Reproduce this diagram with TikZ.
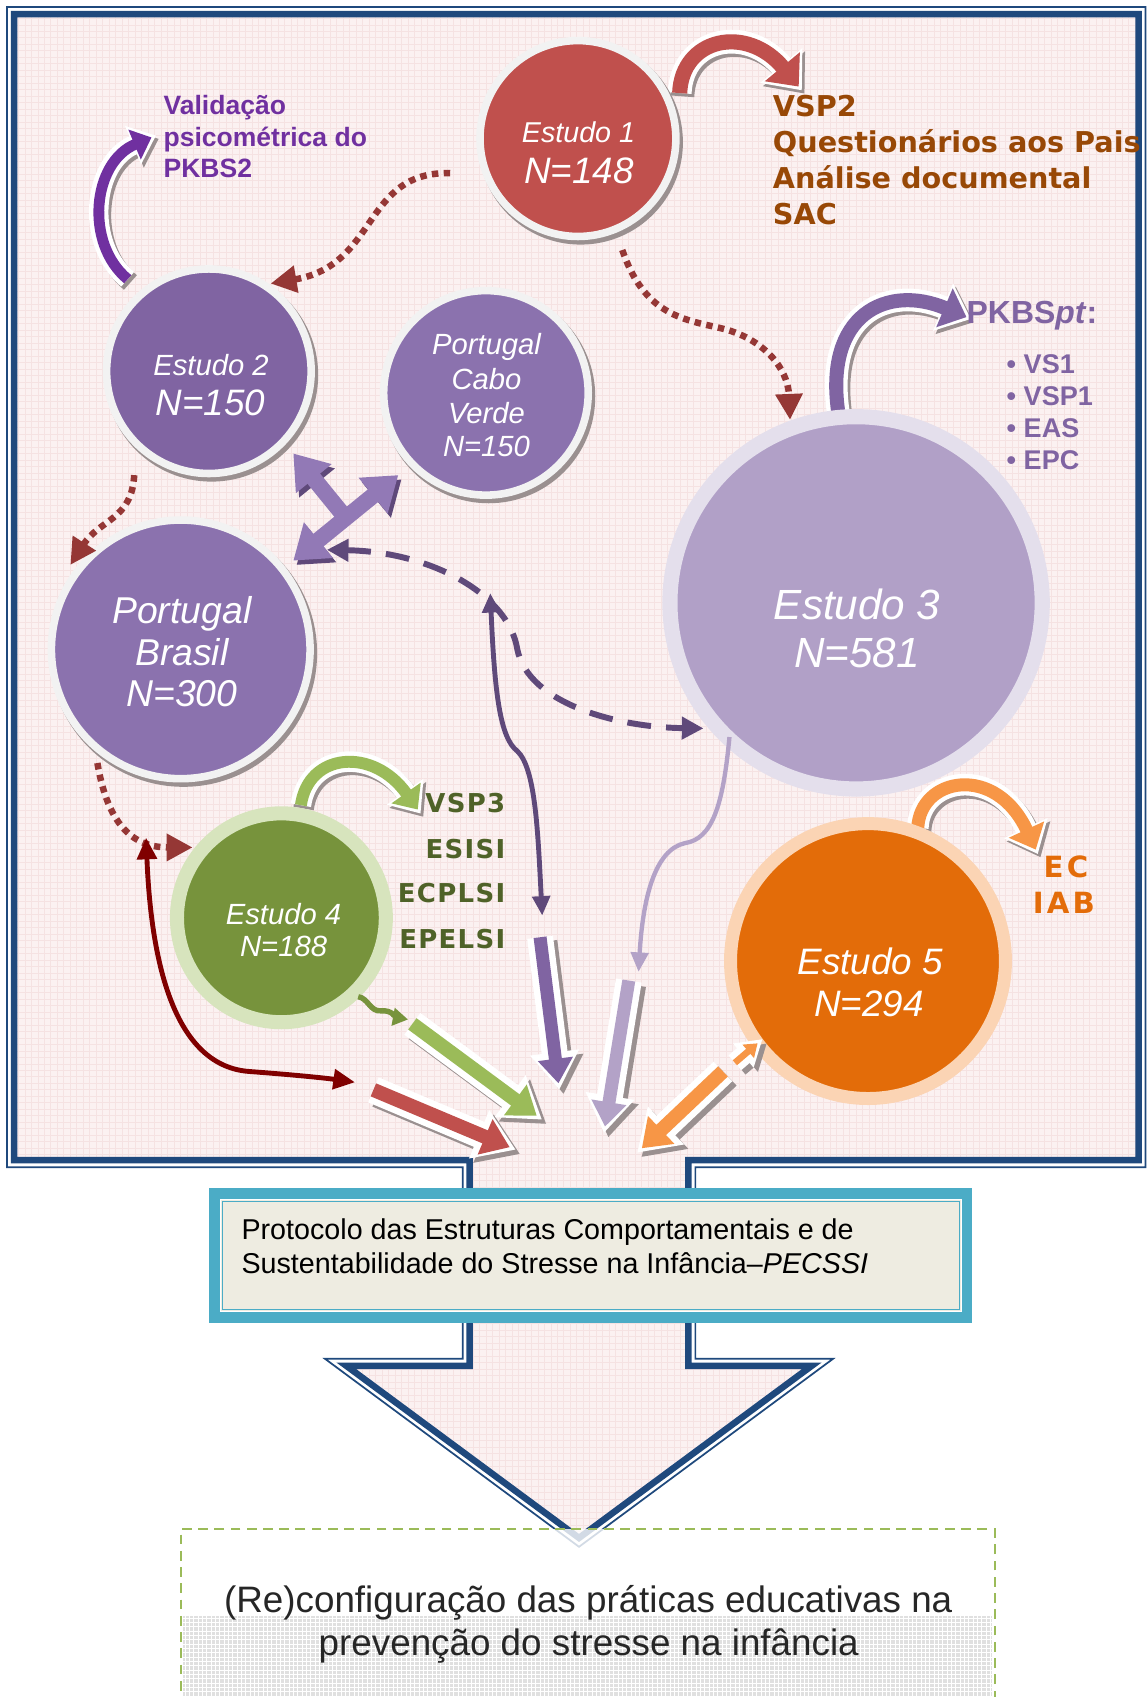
\documentclass[tikz,border=0pt]{standalone}
\usepackage{fontspec}
\setmainfont{Liberation Sans}
\newfontfamily\verd{DejaVu Sans}
\newfontfamily\verdsp{DejaVu Sans}[LetterSpace=5]
\newfontfamily\verdspo{DejaVu Sans}[LetterSpace=11]
\usetikzlibrary{arrows.meta}

\definecolor{frameblue}{HTML}{1F497D}
\definecolor{bgpink}{HTML}{FBF1F1}
\definecolor{gridpink}{HTML}{F5E2E2}
\definecolor{ringwhite}{HTML}{F2F2F2}
\definecolor{shadowgray}{HTML}{9A9090}
\definecolor{red1}{HTML}{C0504D}
\definecolor{purple2}{HTML}{8064A2}
\definecolor{purple3}{HTML}{8B72AE}
\definecolor{lilac}{HTML}{B1A0C7}
\definecolor{lilacring}{HTML}{E4DFEC}
\definecolor{olive}{HTML}{77933C}
\definecolor{olivering}{HTML}{D7E4BD}
\definecolor{orange5}{HTML}{E36C09}
\definecolor{orangering}{HTML}{FBD4B4}
\definecolor{valpurple}{HTML}{7030A0}
\definecolor{vspbrown}{HTML}{984806}
\definecolor{vspgreen}{HTML}{4F6228}
\definecolor{dotbrown}{HTML}{953735}
\definecolor{darkred}{HTML}{800000}
\definecolor{deeppurple}{HTML}{5F497A}
\definecolor{softlilac}{HTML}{B3A2C7}
\definecolor{lightgreen}{HTML}{9BBB59}
\definecolor{lightorange}{HTML}{F79646}
\definecolor{boxcyan}{HTML}{4BACC6}
\definecolor{boxfill}{HTML}{EEECE1}
\definecolor{fwpurple}{HTML}{9279B6}
\definecolor{textgray}{HTML}{262626}
\definecolor{patgray}{HTML}{E0E0E0}

\newcommand\fsz[1]{\fontsize{#1}{#1}\selectfont}
% outline of the framed area with its neck and arrowhead (centre of the thick rule)
\newcommand\framepath{(13,13) -- (1052,13) -- (1052,1072) -- (636,1072) -- (636,1262) -- (750,1262) -- (535,1421) -- (320,1262) -- (434,1262) -- (434,1072) -- (13,1072) -- cycle}
% thin companion rule, just outside the thick one
\newcommand\frameouter{(6.5,6.5) -- (1058.5,6.5) -- (1058.5,1078.5) -- (642.5,1078.5) -- (642.5,1255.5) -- (769.7,1255.5) -- (535,1429.2) -- (300.3,1255.5) -- (427.5,1255.5) -- (427.5,1078.5) -- (6.5,1078.5) -- cycle}

\begin{document}
\begin{tikzpicture}[x=1pt,y=-1pt,
  disc/.style={circle, inner sep=0pt, line width=7pt, draw=ringwhite},
  ctext/.style={text=white, anchor=base, inner sep=0pt},
  lbl/.style={inner sep=0pt},
  dotarrow/.style={draw=dotbrown, line width=6pt, dash pattern=on 6pt off 5pt,
    -{Triangle[length=24pt,width=24pt]}},
  bentarrow/.style 2 args={draw=#1, line width=#2,
    -{Triangle[length=0pt 1.7, width=0pt 2.9]},
    preaction={draw=shadowgray, line width=#2+8pt, -{Triangle[length=-7.6pt 1.7, width=-15.2pt 2.9]},
      shorten >=-4.5pt, transform canvas={shift={(2.5pt,-3pt)}}},
    preaction={draw=white, line width=#2+8pt, -{Triangle[length=-7.6pt 1.7, width=-15.2pt 2.9]},
      shorten >=-4.5pt}},
  blockarrow/.style 2 args={draw=#1, line width=#2,
    -{Triangle[length=0pt 1.9, width=0pt 2.6]},
    preaction={draw=shadowgray, line width=#2+12pt, -{Triangle[length=-10.8pt 1.9, width=-19.2pt 2.6]},
      shorten >=-6pt, transform canvas={shift={(4pt,-4pt)}}},
    preaction={draw=white, line width=#2+12pt, -{Triangle[length=-10.8pt 1.9, width=-19.2pt 2.6]},
      shorten >=-6pt}},
  fourway/.style={draw=fwpurple, line width=15pt,
    preaction={draw=deeppurple, transform canvas={shift={(3pt,-4pt)}}}},
  gridline/.style={draw=gridpink, line width=0.7pt}
]
\useasboundingbox (0,0) rectangle (1060,1568);
\fill[white] (0,0) rectangle (1060,1568);

% ---------- framed area ----------
\fill[bgpink] \framepath;
\begin{scope}
  \clip \framepath;
  \foreach \gx in {17,23,...,1052} \draw[gridline] (\gx,13) -- (\gx,1425);
  \foreach \gy in {17,23,...,1425} \draw[gridline] (13,\gy) -- (1052,\gy);
\end{scope}
\draw[frameblue, line width=6pt, line join=miter] \framepath;
\draw[frameblue, line width=1.6pt, line join=miter] \frameouter;

% ---------- protocol box ----------
\node[rectangle, draw=boxcyan, line width=10pt, fill=boxfill, minimum width=695pt, minimum height=114pt, inner sep=0pt] (pecssi) at (545.5,1160) {};
\draw[white, line width=1.3pt] (203.5,1108.5) rectangle (888.5,1212);
\draw[boxcyan, line width=1pt] (205.5,1110.5) rectangle (886.5,1210);
\node[lbl, anchor=base west, font=\fsz{26.5}] (pec1) at (223,1145) {Protocolo das Estruturas Comportamentais e de};
\node[lbl, anchor=base west, font=\fsz{26.5}] (pec2) at (223,1177) {Sustentabilidade do Stresse na Infância–\textit{PECSSI}};

% ---------- outcome box ----------
\node[rectangle, draw=lightgreen, line width=1.8pt, dash pattern=on 9pt off 6pt, fill=white, fill opacity=0.8, draw opacity=1, minimum width=752pt, minimum height=186pt, inner sep=0pt] (outcome) at (543,1506) {};
\fill[patgray] (169,1493) rectangle (917,1570);
\begin{scope}
  \clip (169,1493) rectangle (917,1570);
  \foreach \gx in {171,175,...,917} \draw[white, line width=0.5pt] (\gx,1493) -- (\gx,1570);
  \foreach \gy in {1495,1499,...,1570} \draw[white, line width=0.5pt] (169,\gy) -- (917,\gy);
\end{scope}
\node[lbl, anchor=base, text=textgray, font=\fsz{34}] (out1) at (543.5,1490) {(Re)configuração das práticas educativas na};
\node[lbl, anchor=base, text=textgray, font=\fsz{34}] (out2) at (544,1530) {prevenção do stresse na infância};

% ---------- curved arrows leaving the studies ----------
\coordinate (u2s) at (118,258);  \coordinate (u2e) at (140,127);
\coordinate (u1s) at (628,86);   \coordinate (u1e) at (738,80);
\coordinate (u3s) at (775,384);  \coordinate (u3e) at (893,293);
\coordinate (u4s) at (278,744);  \coordinate (u4e) at (386,748);
\coordinate (u5s) at (848,765);  \coordinate (u5e) at (957,785);
\draw[bentarrow={valpurple}{10pt}] (u2s) .. controls (78,225) and (85,150) .. (u2e);
\draw[bentarrow={red1}{14pt}] (u1s) .. controls (630,35) and (690,22) .. (u1e);
\draw[bentarrow={purple2}{13pt}] (u3s) .. controls (760,290) and (820,262) .. (u3e);
\draw[bentarrow={lightgreen}{11pt}] (u4s) .. controls (285,695) and (345,690) .. (u4e);
\draw[bentarrow={lightorange}{12pt}] (u5s) .. controls (850,718) and (920,705) .. (u5e);

% ---------- studies ----------
\fill[shadowgray] (536.5,131.5) circle[radius=94.5pt];
\node[disc, fill=red1, minimum size=181pt] (e1) at (534,128) {};
\fill[shadowgray] (195.5,346.5) circle[radius=98.5pt];
\node[disc, fill=purple2, minimum size=189pt] (e2) at (193,343) {};
\fill[shadowgray] (451.5,366.5) circle[radius=98.5pt];
\node[disc, fill=purple3, minimum size=189pt] (pcv) at (449,363) {};
\fill[shadowgray] (169.5,603.5) circle[radius=123.5pt];
\node[disc, fill=purple3, minimum size=239pt] (pb) at (167,600) {};
\node[disc, fill=lilac, draw=lilacring, line width=14pt, minimum size=344pt] (e3) at (791,557) {};
\node[disc, fill=olive, draw=olivering, line width=13pt, minimum size=193pt] (e4) at (260,848) {};
\node[disc, fill=orange5, draw=orangering, line width=12pt, minimum size=254pt] (e5) at (802,888) {};

\node[ctext, font=\fsz{26.5}\itshape] (e1a) at (534.5,131.5) {Estudo 1};
\node[ctext, font=\fsz{34}\itshape] (e1b) at (535,170) {N=148};
\node[ctext, font=\fsz{27}\itshape] (e2a) at (195,347) {Estudo 2};
\node[ctext, font=\fsz{34}\itshape] (e2b) at (194.5,384) {N=150};
\node[ctext, font=\fsz{27}\itshape] (pcva) at (449.5,328) {Portugal};
\node[ctext, font=\fsz{27}\itshape] (pcvb) at (449.5,360) {Cabo};
\node[ctext, font=\fsz{27}\itshape] (pcvc) at (449.5,391) {Verde};
\node[ctext, font=\fsz{27}\itshape] (pcvd) at (449.5,422) {N=150};
\node[ctext, font=\fsz{34.5}\itshape] (pba) at (168,576) {Portugal};
\node[ctext, font=\fsz{34.5}\itshape] (pbb) at (168,615) {Brasil};
\node[ctext, font=\fsz{34.5}\itshape] (pbc) at (168,653) {N=300};
\node[ctext, font=\fsz{39}\itshape] (e3a) at (792,572) {Estudo 3};
\node[ctext, font=\fsz{39}\itshape] (e3b) at (792,617) {N=581};
\node[ctext, font=\fsz{27}\itshape] (e4a) at (262,854) {Estudo 4};
\node[ctext, font=\fsz{27}\itshape] (e4b) at (262,884) {N=188};
\node[ctext, font=\fsz{34}\itshape] (e5a) at (804,900) {Estudo 5};
\node[ctext, font=\fsz{34}\itshape] (e5b) at (803,939) {N=294};

% ---------- dotted links between studies ----------
\coordinate (d1s) at (416,160);  \coordinate (d1e) at (250,262);
\coordinate (d2s) at (575,231);  \coordinate (d2e) at (730,388);
\coordinate (d3s) at (124,439);  \coordinate (d3e) at (65,522);
\coordinate (d4s) at (90,705);   \coordinate (d4e) at (178,783);
\draw[dotarrow] (d1s) .. controls (335,158) and (350,245) .. (d1e);
\draw[dotarrow] (d2s) .. controls (595,290) and (630,295) .. (665,303) .. controls (705,312) and (728,340) .. (d2e);
\draw[dotarrow] (d3s) .. controls (122,480) and (92,480) .. (d3e);
\draw[dotarrow] (d4s) .. controls (100,765) and (125,783) .. (d4e);

% ---------- three-way arrow between the samples of study 2 ----------
\coordinate (fwul) at (271,419);
\coordinate (fwur) at (368,439);
\coordinate (fwll) at (271,518);
\coordinate (fwc)  at (319,478);
\draw[fourway, -{Triangle[length=0pt 2, width=0pt 2.7]}] (fwc) -- (fwul);
\draw[fourway, {Triangle[length=0pt 2, width=0pt 2.7]}-{Triangle[length=0pt 2, width=0pt 2.7]}] (fwll) -- (fwur);

% ---------- long connectors ----------
\coordinate (dsh1) at (302,508); \coordinate (dsh2) at (650,673);
\draw[deeppurple, line width=5.5pt, dash pattern=on 22pt off 14pt,
  {Triangle[length=20pt,width=20pt]}-{Triangle[length=20pt,width=20pt]}]
  (dsh1) .. controls (400,510) and (470,550) .. (478,600) .. controls (488,650) and (570,672) .. (dsh2);
\coordinate (sp1) at (453,548); \coordinate (sp2) at (501,846);
\draw[deeppurple, line width=4.5pt, {Triangle[length=18pt,width=16pt]}-{Triangle[length=18pt,width=16pt]}]
  (sp1) .. controls (457,640) and (462,682) .. (478,694) .. controls (495,710) and (497,770) .. (sp2);
\coordinate (lp1) at (674,681); \coordinate (lp2) at (590,898);
\draw[softlilac, line width=4pt, -{Triangle[length=18pt,width=16pt]}]
  (lp1) .. controls (668,745) and (658,775) .. (633,779) .. controls (605,785) and (594,830) .. (lp2);
\coordinate (dr1) at (135,774); \coordinate (dr2) at (328,1000);
\draw[darkred, line width=4.5pt, {Triangle[length=20pt,width=18pt]}-{Triangle[length=20pt,width=18pt]}]
  (dr1) .. controls (140,900) and (165,985) .. (230,990) .. controls (270,993) and (300,996) .. (dr2);
\coordinate (sq1) at (331,921); \coordinate (sq2) at (377,942);
\draw[olive, line width=5pt, -{Triangle[length=14pt,width=16pt]}]
  (sq1) .. controls (340,922) and (342,935) .. (352,934) .. controls (362,933) and (366,940) .. (sq2);

% ---------- block arrows converging on the protocol ----------
\coordinate (ba1) at (345,1007); \coordinate (bb1) at (471,1060);
\coordinate (ba2) at (381,946);  \coordinate (bb2) at (496,1031);
\coordinate (ba3) at (499,866);  \coordinate (bb3) at (516,1001);
\coordinate (ba4) at (581,906);  \coordinate (bb4) at (559,1041);
\coordinate (ba5) at (668,990);  \coordinate (bb5) at (593,1061);
\coordinate (ba6) at (679,982);  \coordinate (bb6) at (700,964);
\draw[blockarrow={red1}{13pt}] (ba1) -- (bb1);
\draw[blockarrow={lightgreen}{13pt}] (ba2) -- (bb2);
\draw[blockarrow={purple2}{12pt}] (ba3) -- (bb3);
\draw[blockarrow={softlilac}{12pt}] (ba4) -- (bb4);
\draw[blockarrow={lightorange}{13pt}] (ba5) -- (bb5);
\draw[blockarrow={lightorange}{6pt}] (ba6) -- (bb6);

% ---------- labels ----------
\node[lbl, anchor=base west, text=valpurple, font=\fsz{24.5}\bfseries] (val1) at (151,106) {Validação};
\node[lbl, anchor=base west, text=valpurple, font=\fsz{24.5}\bfseries] (val2) at (151,135) {psicométrica do};
\node[lbl, anchor=base west, text=valpurple, font=\fsz{24.5}\bfseries] (val3) at (151,164) {PKBS2};

\node[lbl, anchor=base west, text=vspbrown, font=\verd\fsz{26.5}\bfseries] (vsp2a) at (714,108) {VSP2};
\node[lbl, anchor=base west, text=vspbrown, font=\verd\fsz{26.5}\bfseries] (vsp2b) at (714,141) {Questionários aos Pais};
\node[lbl, anchor=base west, text=vspbrown, font=\verd\fsz{26.5}\bfseries] (vsp2c) at (714,174) {Análise documental};
\node[lbl, anchor=base west, text=vspbrown, font=\verd\fsz{26.5}\bfseries] (vsp2d) at (714,207) {SAC};

\node[lbl, anchor=base west, text=purple2, font=\fsz{29.5}\bfseries] (pkbs) at (893,299) {PKBS\textit{pt}:};
\node[lbl, anchor=base west, text=purple2, font=\fsz{25}\bfseries] (pk1) at (930,345) {• VS1};
\node[lbl, anchor=base west, text=purple2, font=\fsz{25}\bfseries] (pk2) at (930,374.5) {• VSP1};
\node[lbl, anchor=base west, text=purple2, font=\fsz{25}\bfseries] (pk3) at (930,404) {• EAS};
\node[lbl, anchor=base west, text=purple2, font=\fsz{25}\bfseries] (pk4) at (930,434) {• EPC};

\node[lbl, anchor=base east, text=vspgreen, font=\verdsp\fsz{24}\bfseries] (s4a) at (467,751) {VSP3};
\node[lbl, anchor=base east, text=vspgreen, font=\verdsp\fsz{24}\bfseries] (s4b) at (467,793) {ESISI};
\node[lbl, anchor=base east, text=vspgreen, font=\verdsp\fsz{24}\bfseries] (s4c) at (467,834) {ECPLSI};
\node[lbl, anchor=base east, text=vspgreen, font=\verdsp\fsz{24}\bfseries] (s4d) at (467,876) {EPELSI};

\node[lbl, anchor=base, text=orange5, font=\verdspo\fsz{27}\bfseries] (s5a) at (985,811) {EC};
\node[lbl, anchor=base, text=orange5, font=\verdspo\fsz{27}\bfseries] (s5b) at (983,844) {IAB};
\end{tikzpicture}
\end{document}
